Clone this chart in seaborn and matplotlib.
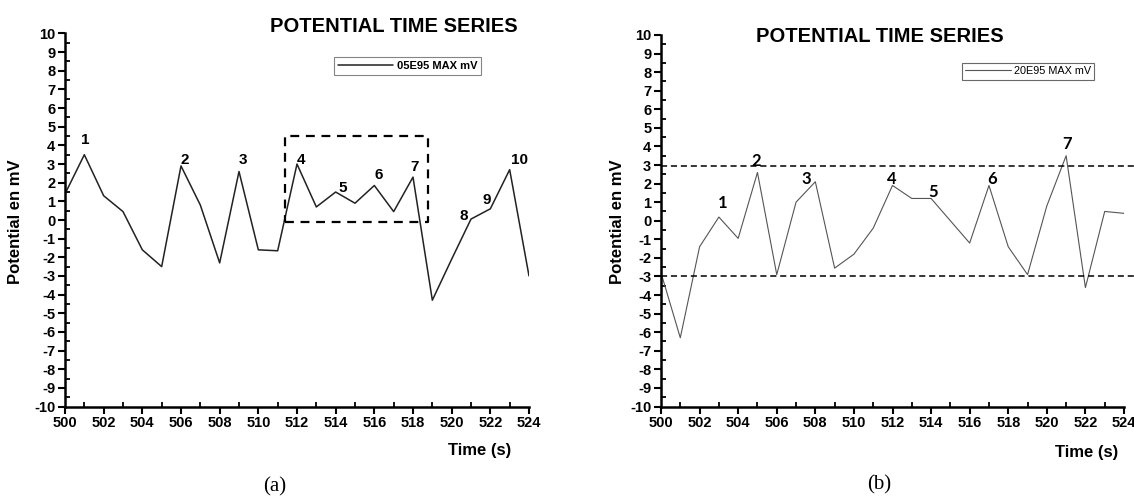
import matplotlib
matplotlib.use("Agg")
import matplotlib.pyplot as plt
import seaborn as sns
import pandas as pd
import numpy as np
from matplotlib.ticker import MultipleLocator

# ---------------- data ----------------
time_s = list(range(500, 525))
pot_a = [1.4, 3.5, 1.3, 0.45, -1.6, -2.5, 2.9, 0.8, -2.3, 2.6, -1.6, -1.65, 3.0,
         0.7, 1.5, 0.9, 1.85, 0.45, 2.3, -4.3, -2.1, 0.05, 0.6, 2.7, -3.0]
pot_b = [-2.8, -6.3, -1.4, 0.2, -0.95, 2.6, -2.9, 1.0, 2.1, -2.55, -1.8, -0.4, 1.9,
         1.2, 1.2, 0.0, -1.2, 1.9, -1.4, -2.9, 0.8, 3.5, -3.6, 0.5, 0.4]
label_a = "05E95 MAX mV"
label_b = "20E95 MAX mV"
title = "POTENTIAL TIME SERIES"
ylabel = "Potential en mV"
xlabel = "Time (s)"

peak_labels_a = ["1", "2", "3", "4", "5", "6", "7", "8", "9", "10"]
peak_x_a = [501.05, 506.2, 509.2, 512.2, 514.35, 516.25, 518.1, 520.65, 521.8, 523.5]
peak_y_a = [4.3, 3.2, 3.2, 3.2, 1.7, 2.4, 2.85, 0.2, 1.05, 3.2]

peak_labels_b = ["1", "2", "3", "4", "5", "6", "7"]
peak_x_b = [503.2, 504.95, 507.55, 511.95, 514.1, 517.15, 521.05]
peak_y_b = [0.95, 3.2, 2.25, 2.25, 1.55, 2.25, 4.15]

box_a = (511.4, -0.1, 518.8, 4.5)  # x0, y0, x1, y1
thresholds_b = [2.95, -2.95]

df_a = pd.DataFrame({"t": time_s, "v": pot_a})
df_b = pd.DataFrame({"t": time_s, "v": pot_b})

sns.set_style("ticks")
plt.rcParams["font.family"] = ["Liberation Sans", "DejaVu Sans"]
plt.rcParams["font.weight"] = "bold"
plt.rcParams["axes.unicode_minus"] = False
plt.rcParams["text.color"] = "black"
plt.rcParams["xtick.color"] = "black"
plt.rcParams["ytick.color"] = "black"

W, H = 1134, 500
fig = plt.figure(figsize=(11.34, 5.0), dpi=100)
# panel a: x 65..529, y 33.5..406.5 ; panel b: x 661..1124, y 35..406.5
ax_a = fig.add_axes([65/W, 1-406.5/H, (529-65)/W, (406.5-33.5)/H])
ax_b = fig.add_axes([661/W, 1-406.5/H, (1124-661)/W, (406.5-35)/H])


def style_axis(ax):
    ax.set_xlim(500, 524)
    ax.set_ylim(-10, 10)
    for s in ["top", "right"]:
        ax.spines[s].set_visible(False)
    for s in ["left", "bottom"]:
        ax.spines[s].set_linewidth(1.8)
        ax.spines[s].set_color("black")
    ax.xaxis.set_major_locator(MultipleLocator(2))
    ax.xaxis.set_minor_locator(MultipleLocator(1))
    ax.yaxis.set_major_locator(MultipleLocator(1))
    ax.yaxis.set_minor_locator(MultipleLocator(0.5))
    ax.tick_params(which="major", direction="out", length=5, width=1.5,
                   labelsize=10.5, pad=2, colors="black")
    ax.tick_params(which="minor", direction="in", length=3.5, width=1.3)
    for lab in ax.get_xticklabels() + ax.get_yticklabels():
        lab.set_fontweight("bold")
    ax.set_xlabel("")
    ax.set_ylabel("")


# ---------- panel (a) ----------
sns.lineplot(data=df_a, x="t", y="v", ax=ax_a, color="#222222", linewidth=1.1,
             label=label_a)
style_axis(ax_a)
x0, y0, x1, y1 = box_a
ax_a.plot([x0, x1, x1, x0, x0], [y0, y0, y1, y1, y0], color="black",
          linestyle=(0, (4, 3)), linewidth=1.6)
for t, x, y in zip(peak_labels_a, peak_x_a, peak_y_a):
    ax_a.text(x, y, t, ha="center", va="center", fontsize=11, fontweight="bold")
leg = ax_a.legend(loc="upper left",
                  bbox_to_anchor=((334-65)/464, (406.5-57.5)/373),
                  frameon=True, fancybox=False, fontsize=8, handlelength=5.0,
                  handletextpad=0.3, borderpad=0.35, borderaxespad=0)
leg.get_frame().set_edgecolor("#666666")
leg.get_frame().set_linewidth(0.8)
for txt in leg.get_texts():
    txt.set_fontweight("bold")

fig.text(394/W, 1-26/H, title, ha="center", va="center", fontsize=14.5,
         fontweight="bold")
fig.text(16/W, 1-222/H, ylabel, ha="center", va="center", rotation=90,
         fontsize=12, fontweight="bold")
fig.text(480/W, 1-451/H, xlabel, ha="center", va="center", fontsize=12,
         fontweight="bold")
fig.text(275/W, 1-487/H, "(a)", ha="center", va="center", fontsize=15,
         family="Liberation Serif", fontweight="normal")

# ---------- panel (b) ----------
sns.lineplot(data=df_b, x="t", y="v", ax=ax_b, color="#555555", linewidth=0.8,
             label=label_b)
style_axis(ax_b)
for th in thresholds_b:
    ax_b.plot([500, 524.6], [th, th], color="black", linestyle=(0, (4, 2.5)),
              linewidth=1.1, clip_on=False)
for t, x, y in zip(peak_labels_b, peak_x_b, peak_y_b):
    ax_b.text(x, y, t, ha="center", va="center", fontsize=12, fontweight="bold",
              family="Lato")
leg = ax_b.legend(loc="upper left",
                  bbox_to_anchor=((962-661)/463, (406.5-63)/371.5),
                  frameon=True, fancybox=False, fontsize=7.8, handlelength=4.2,
                  handletextpad=0.3, borderpad=0.3, borderaxespad=0)
leg.get_frame().set_edgecolor("#444444")
leg.get_frame().set_linewidth(0.8)
for txt in leg.get_texts():
    txt.set_fontweight("normal")

fig.text(880/W, 1-36/H, title, ha="center", va="center", fontsize=14.5,
         fontweight="bold")
fig.text(617/W, 1-222/H, ylabel, ha="center", va="center", rotation=90,
         fontsize=12, fontweight="bold")
fig.text(1087/W, 1-453/H, xlabel, ha="center", va="center", fontsize=12,
         fontweight="bold")
fig.text(879/W, 1-485/H, "(b)", ha="center", va="center", fontsize=15,
         family="Liberation Serif", fontweight="normal")

fig.savefig("out.png", dpi=100, facecolor="white")
